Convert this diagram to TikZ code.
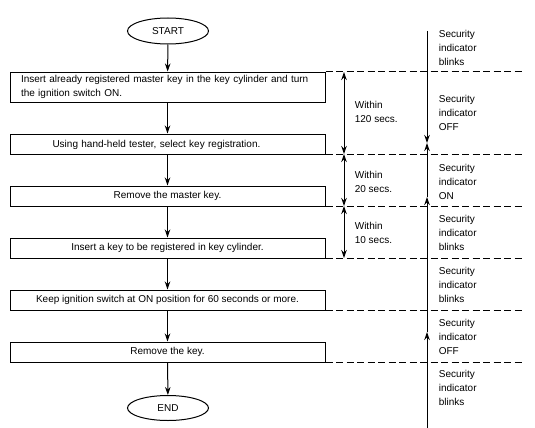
\documentclass[tikz,border=0pt]{standalone}
\usepackage{fontspec}
\setmainfont{Liberation Sans}
\usetikzlibrary{arrows.meta,shapes.geometric}
\begin{document}
\begin{tikzpicture}[x=1pt,y=-1pt,line width=1pt,>={Stealth[length=8pt,width=5.5pt]},
  every node/.style={font=\fontsize{10}{14}\selectfont},
  stepbox/.style={draw,minimum width=315pt,minimum height=20pt,inner sep=0pt},
  termbox/.style={draw,ellipse,minimum width=81pt,minimum height=26pt,inner sep=0pt},
  sep/.style={dash pattern=on 7pt off 3.5pt}]
\useasboundingbox (0,0) rectangle (535,428);
% flow chart
\node[termbox] (start) at (168,31) {START};
\node[stepbox,minimum height=30pt,text width=293pt,align=left,inner xsep=11pt] (s1) at (167.5,87)
  {Insert already registered master key in the key cylinder and turn\\the ignition switch ON.};
\node[stepbox,text width=280pt,align=left,inner xsep=0pt,text depth=0pt] (s2) at (167.5,144)
  {\hspace*{25pt}Using hand-held tester, select key registration.};
\node[stepbox] (s3) at (167.5,196) {Remove the master key.};
\node[stepbox] (s4) at (167.5,248) {Insert a key to be registered in key cylinder.};
\node[stepbox] (s5) at (167.5,300) {Keep ignition switch at ON position for 60 seconds or more.};
\node[stepbox] (s6) at (167.5,352) {Remove the key.};
\node[termbox,minimum height=25pt] (end) at (168,408) {END};
\foreach \a/\b in {start/s1,s1/s2,s2/s3,s3/s4,s4/s5,s5/s6,s6/end}
  \draw[->] (\a) -- (\b);
% dashed separators
\foreach \n/\s in {1/s1.north east,2/s2.south east,3/s3.south east,4/s4.south east,5/s5.south east,6/s6.south east} {
  \coordinate (d\n) at (\s -| 522,0);
  \draw[sep] (\s) -- (d\n);
}
% time limits
\foreach \n/\y in {1/72,2/154,3/206,4/258}
  \coordinate (m\n) at (344,\y);
\draw[<->] (m1) -- (m2);
\draw[<->] (m2) -- (m3);
\draw[<->] (m3) -- (m4);
\node[anchor=west,align=left] (w1) at (351,112) {Within\\120 secs.};
\node[anchor=west,align=left] (w2) at (351,182) {Within\\20 secs.};
\node[anchor=west,align=left] (w3) at (351,233) {Within\\10 secs.};
% indicator line
\foreach \n/\y in {0/31,1/143,2/197,3/332,4/428}
  \coordinate (t\n) at (427,\y);
\draw[->] (t0) -- (t1);
\draw[->] (t2) -- (t1);
\draw[->] (t3) -- (t2);
\draw[<-] (t3) -- (t4);
\foreach \n/\y/\st in {1/48/blinks,2/113/OFF,3/182/ON,4/233/blinks,5/285/blinks,6/337/OFF,7/388/blinks}
  \node[anchor=west,align=left] (i\n) at (435,\y) {Security\\indicator\\\st};
\end{tikzpicture}
\end{document}
